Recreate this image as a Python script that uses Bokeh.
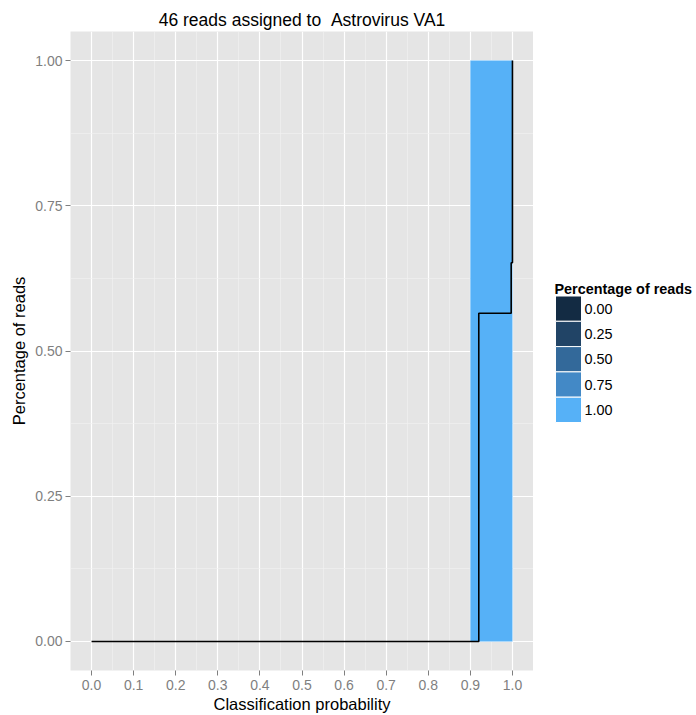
from bokeh.plotting import figure
from bokeh.layouts import row
from bokeh.models import (Range1d, FixedTicker, PrintfTickFormatter, ColumnDataSource)
from bokeh.core.properties import value
from bokeh.embed import file_html
from bokeh.resources import INLINE

# ---- data ----
title_text = "46 reads assigned to \u00a0Astrovirus VA1"
bin_left = [0.9]
bin_right = [1.0]
bin_fraction = [1.0]            # fill value (percentage of reads in bin)

ecdf_x = [0.0, 0.92, 0.997, 1.0]
ecdf_y = [0.0, 0.565, 0.652, 1.0]

x_ticks = [0.0, 0.1, 0.2, 0.3, 0.4, 0.5, 0.6, 0.7, 0.8, 0.9, 1.0]
x_minor = [-0.05, 0.05, 0.15, 0.25, 0.35, 0.45, 0.55, 0.65, 0.75, 0.85, 0.95, 1.05]
y_ticks = [0.0, 0.25, 0.5, 0.75, 1.0]
y_minor = [0.125, 0.375, 0.625, 0.875]

legend_title = "Percentage of reads"
legend_values = [0.00, 0.25, 0.50, 0.75, 1.00]
legend_labels = ["0.00", "0.25", "0.50", "0.75", "1.00"]
legend_colors = ["#132B43", "#214466", "#33699A", "#4389C6", "#56B1F7"]

FONT = "Liberation Sans"
FRAME_TOP, FRAME_BOTTOM = 31, 670

p = figure(width=533, height=715, output_backend="svg", toolbar_location=None,
           x_range=Range1d(-0.05, 1.05), y_range=Range1d(-0.05, 1.05),
           min_border_left=70, min_border_right=0, min_border_top=FRAME_TOP,
           min_border_bottom=715 - FRAME_BOTTOM)

p.background_fill_color = "#E5E5E5"
p.border_fill_color = "white"
p.outline_line_color = None

# title
p.title.text = title_text
p.title.align = "center"
p.title.text_font = FONT
p.title.text_font_size = "17.5px"
p.title.text_font_style = "normal"
p.title.text_color = "black"
p.title.standoff = 4

# axes
for ax in (p.xaxis[0], p.yaxis[0]):
    ax.axis_line_color = None
    ax.major_tick_line_color = "#7F7F7F"
    ax.major_tick_out = 5
    ax.major_tick_in = 0
    ax.minor_tick_out = 0
    ax.minor_tick_in = 0
    ax.minor_tick_line_color = None
    ax.major_label_text_color = "#7F7F7F"
    ax.major_label_text_font = FONT
    ax.major_label_text_font_size = "14px"
    ax.axis_label_text_font = FONT
    ax.axis_label_text_font_size = "16.5px"
    ax.axis_label_text_font_style = "normal"
    ax.axis_label_text_color = "black"

p.xaxis.ticker = FixedTicker(ticks=x_ticks, minor_ticks=x_minor)
p.yaxis.ticker = FixedTicker(ticks=y_ticks, minor_ticks=y_minor)
p.xaxis.formatter = PrintfTickFormatter(format="%.1f")
p.yaxis.formatter = PrintfTickFormatter(format="%.2f")
p.xaxis.axis_label = "Classification probability"
p.yaxis.axis_label = "Percentage of reads"
p.xaxis.major_label_standoff = 4
p.yaxis.major_label_standoff = 3
p.xaxis.axis_label_standoff = 2
p.yaxis.axis_label_standoff = 4

# grid
for g in (p.xgrid[0], p.ygrid[0]):
    g.grid_line_color = "white"
    g.grid_line_width = 1.2
    g.minor_grid_line_color = "#F2F2F2"
    g.minor_grid_line_width = 0.6

# bars
def color_for(v):
    idx = min(range(len(legend_values)), key=lambda i: abs(legend_values[i] - v))
    return legend_colors[idx]

src = ColumnDataSource(dict(left=bin_left, right=bin_right,
                            bottom=[0.0] * len(bin_left), top=bin_fraction,
                            color=[color_for(v) for v in bin_fraction]))
p.quad(left="left", right="right", bottom="bottom", top="top", source=src,
       fill_color="color", line_color=None)

# ecdf step
p.step(ecdf_x, ecdf_y, mode="after", line_color="black", line_width=1.6)

# ---- legend panel (separate figure; its frame is aligned with the main frame) ----
# coordinates in this panel are pixels: x from the panel's left, y from canvas top
lf = figure(width=163, height=715, output_backend="svg", toolbar_location=None,
            x_axis_type=None, y_axis_type=None,
            x_range=Range1d(0, 163), y_range=Range1d(FRAME_BOTTOM, FRAME_TOP),
            min_border_left=0, min_border_right=0,
            min_border_top=FRAME_TOP, min_border_bottom=715 - FRAME_BOTTOM)
lf.outline_line_color = None
lf.background_fill_color = "white"
lf.border_fill_color = "white"
lf.xgrid.visible = False
lf.ygrid.visible = False

key_left, key_w, key_h, key_top0 = 22, 26, 25.3, 295.5
n = len(legend_labels)
tops = [key_top0 + i * key_h for i in range(n)]
leg_src = ColumnDataSource(dict(
    left=[key_left] * n, right=[key_left + key_w] * n,
    top=tops, bottom=[t + key_h for t in tops],
    ymid=[t + key_h / 2 for t in tops],
    xlab=[key_left + key_w + 3] * n,
    color=legend_colors, label=legend_labels))
lf.quad(left="left", right="right", top="top", bottom="bottom", source=leg_src,
        fill_color="color", line_color="white", line_width=1)
lf.text(x="xlab", y="ymid", text="label", source=leg_src,
        text_font=value(FONT), text_font_size=value("14.4px"),
        text_baseline="middle", text_align="left", text_color="black")
lf.text(x=[key_left - 1], y=[288.5], text=[legend_title],
        text_font=value(FONT), text_font_size=value("14.4px"),
        text_font_style="bold", text_baseline="alphabetic", text_align="left",
        text_color="black")

layout = row(p, lf)
open("out.html", "w").write(file_html(layout, INLINE))
